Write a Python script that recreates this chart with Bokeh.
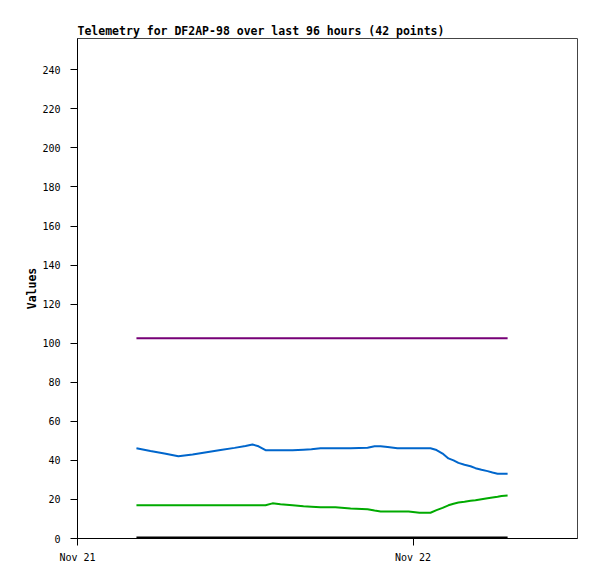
from datetime import datetime
from bokeh.plotting import figure
from bokeh.models import Range1d, FixedTicker, SingleIntervalTicker, DatetimeTickFormatter
from bokeh.embed import file_html
from bokeh.resources import INLINE

times = [
    "2024-11-21 04:13", "2024-11-21 05:13", "2024-11-21 06:13", "2024-11-21 07:13",
    "2024-11-21 08:14", "2024-11-21 09:14", "2024-11-21 10:14", "2024-11-21 11:14",
    "2024-11-21 12:01", "2024-11-21 12:31", "2024-11-21 12:57", "2024-11-21 13:27",
    "2024-11-21 13:57", "2024-11-21 14:31", "2024-11-21 15:23", "2024-11-21 16:10",
    "2024-11-21 16:44", "2024-11-21 17:23", "2024-11-21 18:27", "2024-11-21 19:32",
    "2024-11-21 20:45", "2024-11-21 21:15", "2024-11-21 21:41", "2024-11-21 22:11",
    "2024-11-21 22:53", "2024-11-21 23:41", "2024-11-22 00:28", "2024-11-22 01:15",
    "2024-11-22 01:41", "2024-11-22 02:07", "2024-11-22 02:32", "2024-11-22 02:54",
    "2024-11-22 03:15", "2024-11-22 03:41", "2024-11-22 04:07", "2024-11-22 04:28",
    "2024-11-22 04:54", "2024-11-22 05:20", "2024-11-22 05:41", "2024-11-22 06:03",
    "2024-11-22 06:20", "2024-11-22 06:46",
]

purple_vals = [102.5] * 42

blue_vals = [
    46.2, 44.8, 43.5, 42.1, 43.0, 44.2, 45.3, 46.4, 47.4, 48.1,
    47.2, 45.2, 45.2, 45.2, 45.2, 45.5, 45.7, 46.2, 46.2, 46.2,
    46.5, 47.2, 47.2, 46.8, 46.2, 46.2, 46.2, 46.2, 45.3, 43.5,
    41.0, 40.0, 38.7, 37.8, 37.0, 36.0, 35.2, 34.5, 33.8, 33.2,
    33.1, 33.1,
]

green_vals = [
    17.0, 17.0, 17.0, 17.0, 17.0, 17.0, 17.0, 17.0, 17.0, 17.0,
    17.0, 17.0, 18.0, 17.5, 17.0, 16.5, 16.3, 16.0, 16.0, 15.3,
    15.0, 14.3, 13.8, 13.8, 13.8, 13.8, 13.2, 13.2, 14.5, 15.7,
    17.0, 17.8, 18.4, 18.8, 19.3, 19.6, 20.1, 20.6, 21.0, 21.4,
    21.8, 22.0,
]

black_vals = [0.3] * 42

x_tick_dates = ["2024-11-21 00:00", "2024-11-22 00:00"]
y_ticks = list(range(0, 241, 20))

title_text = "Telemetry for DF2AP-98 over last 96 hours (42 points)"
y_label = "Values"

fmt = "%Y-%m-%d %H:%M"
xs = [datetime.strptime(t, fmt) for t in times]
tick_ms = [datetime.strptime(t, fmt).timestamp() * 1000 for t in x_tick_dates]

MONO = "DejaVu Sans Mono"

p = figure(
    width=589, height=571,
    output_backend="svg", toolbar_location=None,
    x_axis_type="datetime",
    x_range=Range1d(datetime(2024, 11, 21, 0, 0), datetime(2024, 11, 22, 11, 46)),
    y_range=Range1d(0, 256),
    title=title_text,
)
p.frame_width = 500
p.frame_height = 500
p.min_border_left = 77
p.min_border_top = 38
p.min_border_right = 12
p.min_border_bottom = 33

p.title.text_font = MONO
p.title.text_font_size = "11.5px"
p.title.text_font_style = "bold"
p.title.text_color = "black"
p.title.offset = 0
p.title.standoff = 2

p.xgrid.visible = False
p.ygrid.visible = False
p.outline_line_color = "#444444"
p.outline_line_width = 1
p.background_fill_color = "white"
p.border_fill_color = "white"

p.xaxis.ticker = FixedTicker(ticks=tick_ms)
p.xaxis.formatter = DatetimeTickFormatter(days="%b %d", hours="%b %d", months="%b %d")
p.yaxis.ticker = FixedTicker(ticks=y_ticks)
p.yaxis.axis_label = y_label

for ax in (p.xaxis[0], p.yaxis[0]):
    ax.axis_line_color = "black"
    ax.axis_line_width = 1
    ax.major_tick_line_color = "black"
    ax.major_tick_in = 0
    ax.major_tick_out = 7
    ax.minor_tick_line_color = None
    ax.major_label_text_font = MONO
    ax.major_label_text_font_size = "10px"
    ax.major_label_text_color = "black"

p.yaxis.major_label_standoff = 10
p.xaxis.major_label_standoff = 6
p.yaxis.axis_label_text_font = MONO
p.yaxis.axis_label_text_font_size = "11.5px"
p.yaxis.axis_label_text_font_style = "bold"
p.yaxis.axis_label_text_color = "black"
p.yaxis.axis_label_standoff = 0

p.line(xs, purple_vals, line_color="#770077", line_width=2)
p.line(xs, blue_vals, line_color="#0066cc", line_width=2)
p.line(xs, green_vals, line_color="#00aa00", line_width=2)
p.line(xs, black_vals, line_color="black", line_width=3)

open("out.html", "w").write(file_html(p, INLINE))
